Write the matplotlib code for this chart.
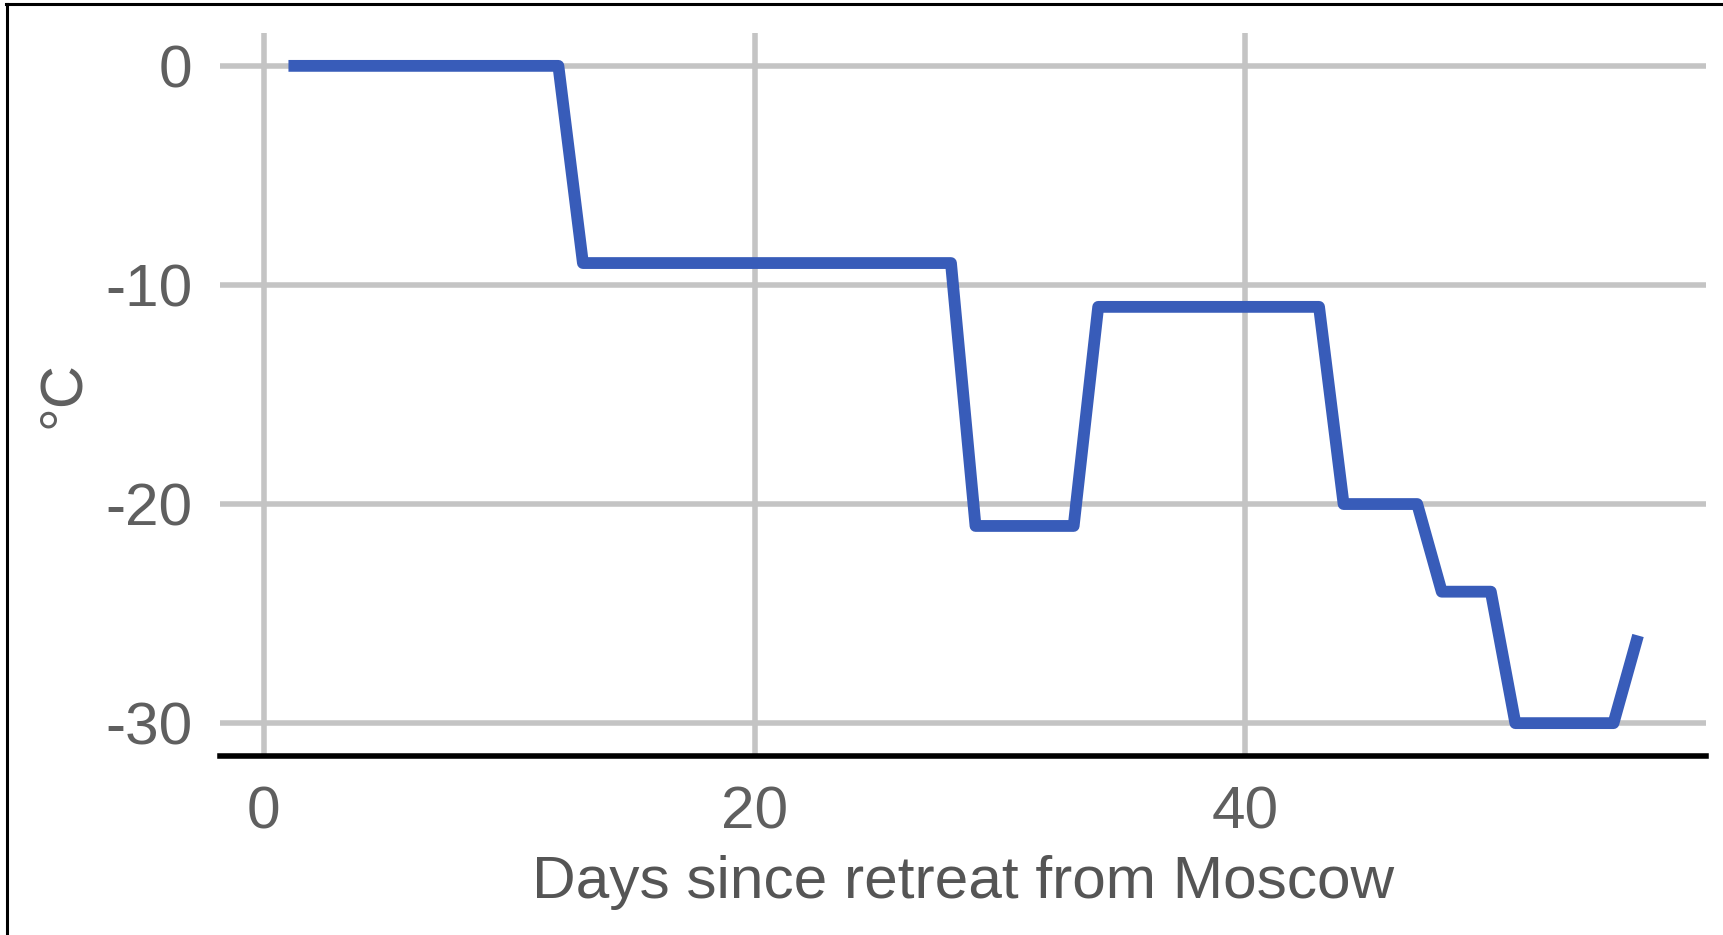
import matplotlib
matplotlib.use("Agg")
import matplotlib.pyplot as plt
from matplotlib.lines import Line2D

days = [1, 12, 13, 28, 29, 33, 34, 43, 44, 47, 48, 50, 51, 55, 56]
temps = [0, 0, -9, -9, -21, -21, -11, -11, -20, -20, -24, -24, -30, -30, -26]
x_ticks = [0, 20, 40]
y_ticks = [0, -10, -20, -30]
x_label = "Days since retreat from Moscow"
y_label = "°C"

plt.rcParams['font.family'] = ['Liberation Sans', 'DejaVu Sans']
plt.rcParams['axes.unicode_minus'] = False

W, H = 1723, 935
fig = plt.figure(figsize=(W / 100, H / 100), dpi=100)
fig.patch.set_facecolor('white')
ax = fig.add_axes([220 / W, 1 - 756 / H, (1706 - 220) / W, (756 - 33) / H])

ax.set_xlim(-1.79, 58.77)
ax.set_ylim(-31.5, 1.5)

ax.plot(days, temps, color='#385cb9', lw=8.5, solid_joinstyle='round',
        solid_capstyle='butt', zorder=3)

ax.set_xticks(x_ticks)
ax.set_yticks(y_ticks)
ax.grid(True, color='#c4c4c4', lw=4, zorder=0)
ax.set_axisbelow(True)
for s in ['top', 'right', 'left']:
    ax.spines[s].set_visible(False)
ax.spines['bottom'].set_color('black')
ax.spines['bottom'].set_linewidth(4)
ax.spines['bottom'].set_zorder(4)
ax.tick_params(axis='both', length=0, labelsize=43.5, labelcolor='#5f5f5f')
ax.tick_params(axis='x', pad=21)
ax.tick_params(axis='y', pad=20)

ax.set_xlabel(x_label, fontsize=43.5, color='#555555', labelpad=11)
ax.set_ylabel(y_label, fontsize=43, color='#5f5f5f')
ax.yaxis.set_label_coords(-0.087, 0.5)

# figure border (top and left)
fig.add_artist(Line2D([6 / W, 1.0], [1 - 4 / H, 1 - 4 / H], color='black', lw=2.2,
                      transform=fig.transFigure))
fig.add_artist(Line2D([7 / W, 7 / W], [0, 1 - 4 / H], color='black', lw=2.2,
                      transform=fig.transFigure))

fig.savefig('out.png', dpi=100)
